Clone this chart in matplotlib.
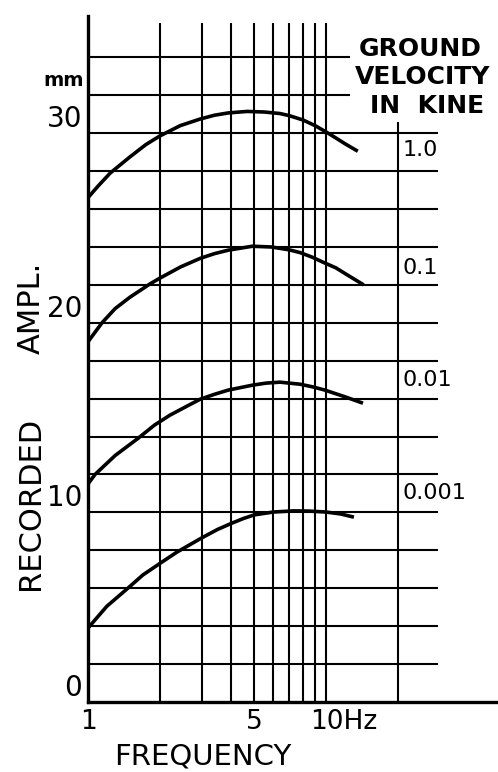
import matplotlib
matplotlib.use("Agg")
import matplotlib.pyplot as plt
import numpy as np

# ---- data ----
freq_10 = [1, 1.1, 1.24, 1.5, 1.75, 2, 2.44, 2.96, 3.4, 3.88, 4.66, 5.5, 6.4, 7, 8, 9, 10, 11, 12, 13.6]
amp_10 = [26.6, 27.2, 27.9, 28.75, 29.4, 29.85, 30.4, 30.75, 30.95, 31.07, 31.15, 31.12, 31.04,
          30.93, 30.7, 30.4, 30.07, 29.75, 29.45, 29.05]

freq_01 = [1, 1.07, 1.145, 1.3, 1.5, 1.82, 2, 2.45, 2.96, 3.4, 3.88, 4.9, 5.9, 7, 7.8, 8.8, 9.7, 11, 12.2, 14.4]
amp_01 = [19.0, 19.5, 20.0, 20.75, 21.35, 22.05, 22.35, 22.95, 23.4, 23.65, 23.83, 24.04, 24.0,
          23.85, 23.7, 23.45, 23.2, 22.9, 22.55, 22.0]

freq_001 = [1, 1.07, 1.3, 1.62, 1.9, 2.21, 2.6, 2.96, 3.4, 3.88, 4.9, 5.6, 6.41, 7.8, 8.8, 9.9, 12, 14.3]
amp_001 = [11.5, 12.0, 13.0, 13.9, 14.6, 15.13, 15.6, 15.97, 16.23, 16.45, 16.71, 16.82, 16.87,
           16.76, 16.62, 16.45, 16.1, 15.76]

freq_0001 = [1, 1.2, 1.47, 1.7, 2, 2.36, 3, 3.5, 4, 4.5, 5, 6, 7.3, 8.5, 10, 11.5, 13.1]
amp_0001 = [3.9, 5.05, 6.0, 6.7, 7.3, 7.9, 8.65, 9.1, 9.42, 9.68, 9.87, 10.02, 10.08, 10.07,
            10.02, 9.92, 9.75]

series_labels = ["1.0", "0.1", "0.01", "0.001"]
series_freqs = [freq_10, freq_01, freq_001, freq_0001]
series_amps = [amp_10, amp_01, amp_001, amp_0001]
label_amp = [29.1, 22.9, 17.0, 11.0]

vgrid_freqs = [2, 3, 4, 5, 6, 7, 8, 9, 10]
hgrid_amps = list(range(2, 35, 2))
ytick_vals = [0, 10, 20, 30]
ytick_labels = ["0", "10", "20", "30"]

W, H = 498, 772
fig = plt.figure(figsize=(W / 100, H / 100), dpi=100)
ax = fig.add_axes([88 / W, (H - 702) / H, (W - 88) / W, (702 - 10) / H])
ax.set_xscale("log")
ax.set_xlim(1, 52.8)
ax.set_ylim(0, 36.5)

for s in ["top", "right"]:
    ax.spines[s].set_visible(False)
ax.spines["left"].set_linewidth(2.4)
ax.spines["bottom"].set_linewidth(2.4)
ax.spines["left"].set_bounds(0, 36.2)
ax.set_xticks([])
ax.set_yticks([])
ax.minorticks_off()
ax.tick_params(which="both", length=0, labelbottom=False, labelleft=False)

# grid
ax.vlines(vgrid_freqs, 0, 35.8, colors="black", linewidth=1.5)
ax.vlines([20], 0, 30.6, colors="black", linewidth=1.5)
for a in hgrid_amps:
    xmax = 12.6 if a >= 32 else 29.5
    ax.hlines(a, 1, xmax, colors="black", linewidth=1.5)

# curves
for f, a in zip(series_freqs, series_amps):
    ax.plot(f, a, color="black", linewidth=2.6, solid_capstyle="butt",
            solid_joinstyle="round")

# curve labels
for lab, y in zip(series_labels, label_amp):
    ax.annotate(lab, xy=(20, y), xycoords="data", xytext=(5, 0),
                textcoords="offset pixels", ha="left", va="center",
                fontsize=16, family="DejaVu Sans")

# y tick labels
for v, lab in zip(ytick_vals, ytick_labels):
    ax.annotate(lab, xy=(1, v), xycoords="data", xytext=(-6, 14),
                textcoords="offset pixels", ha="right", va="center",
                fontsize=20, family="DejaVu Sans")

# x tick labels
ax.annotate("1", xy=(1, 0), xycoords="data", xytext=(0, -20),
            textcoords="offset pixels", ha="center", va="center", fontsize=19)
ax.annotate("5", xy=(5, 0), xycoords="data", xytext=(0, -20),
            textcoords="offset pixels", ha="center", va="center", fontsize=19)
ax.annotate("10Hz", xy=(10, 0), xycoords="data", xytext=(-16, -20),
            textcoords="offset pixels", ha="left", va="center", fontsize=19)

def ft(x, y, s, **kw):
    fig.text(x / W, 1 - y / H, s, **kw)

ft(64, 80, "mm", ha="center", va="center", fontsize=14, fontweight="bold")
ft(203, 757, "FREQUENCY", ha="center", va="center", fontsize=21)
ft(31, 503, "RECORDED", ha="center", va="center", fontsize=22, rotation=90)
ft(31, 308, "AMPL.", ha="center", va="center", fontsize=22, rotation=90)
ft(420, 49, "GROUND", ha="center", va="center", fontsize=18, fontweight="bold")
ft(423, 77, "VELOCITY", ha="center", va="center", fontsize=18, fontweight="bold")
ft(427, 106, "IN  KINE", ha="center", va="center", fontsize=18, fontweight="bold")

fig.savefig("out.png", dpi=100)
